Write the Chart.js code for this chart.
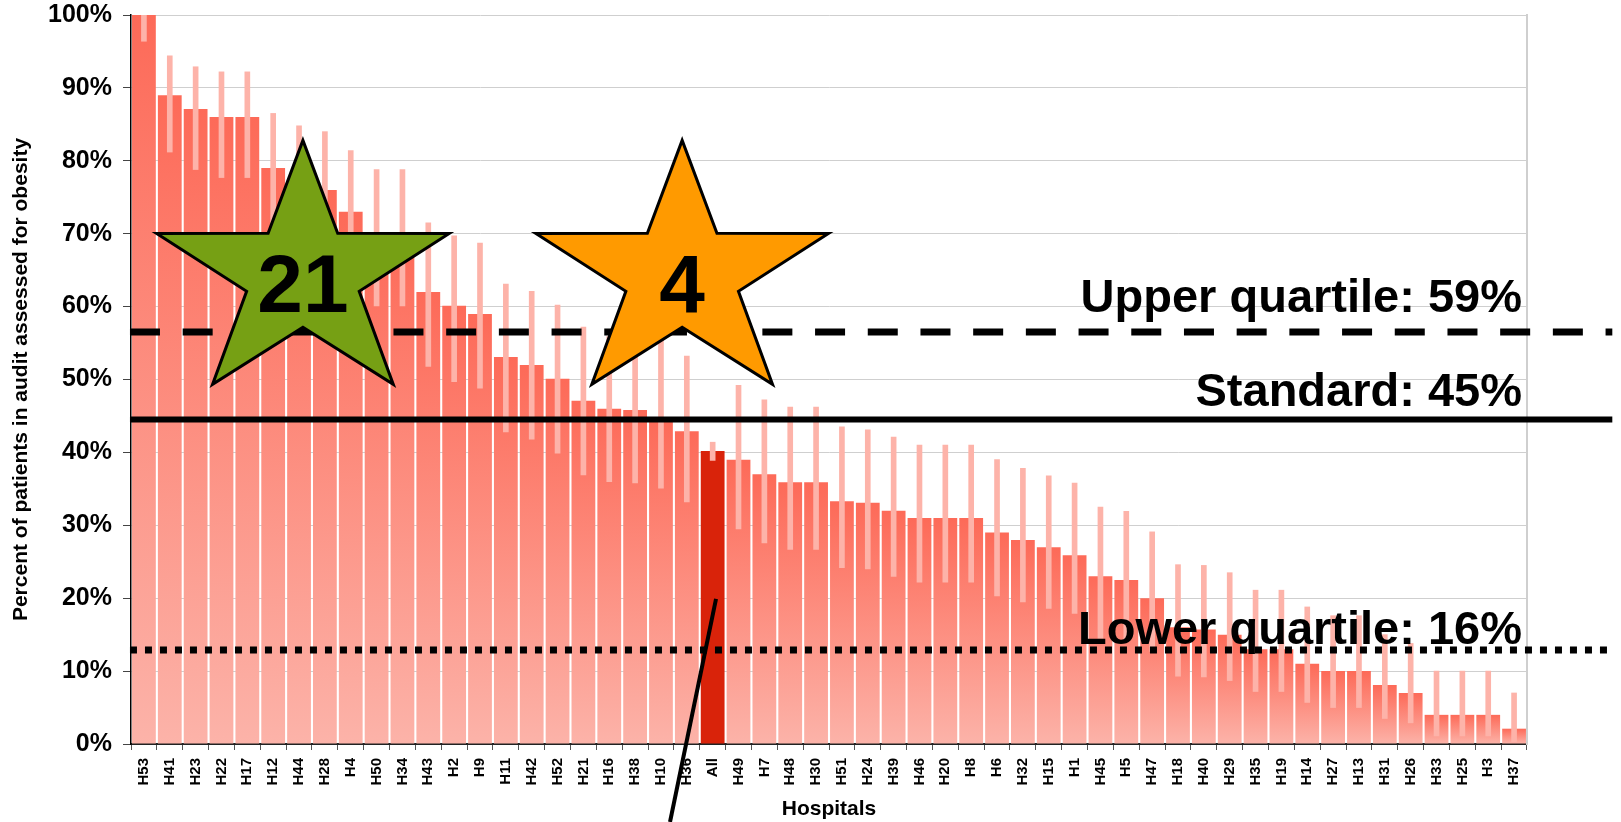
<!DOCTYPE html>
<html>
<head>
<meta charset="utf-8">
<title>Obesity assessment by hospital</title>
<script src="https://cdn.jsdelivr.net/npm/chart.js@4/dist/chart.umd.min.js"></script>
<style>
  html, body { margin: 0; padding: 0; background: #fff; }
  #wrap { position: relative; width: 1621px; height: 822px; }
</style>
</head>
<body>
<div id="wrap"><canvas id="auditChart"></canvas></div>
<script>
const hospitals = [
  "H53", "H41", "H23", "H22", "H17", "H12", "H44", "H28", "H4", "H50", "H34",
  "H43", "H2", "H9", "H11", "H42", "H52", "H21", "H16", "H38", "H10", "H36",
  "All", "H49", "H7", "H48", "H30", "H51", "H24", "H39", "H46", "H20", "H8",
  "H6", "H32", "H15", "H1", "H45", "H5", "H47", "H18", "H40", "H29", "H35",
  "H19", "H14", "H27", "H13", "H31", "H26", "H33", "H25", "H3", "H37",
];
const assessed = [
  100, 89, 87.1, 86, 86, 79, 77.5, 76, 73, 70, 70,
  62, 60.1, 59, 53.1, 52, 50.1, 47.1, 46, 45.8, 44.5, 42.9,
  40.2, 39, 37, 35.9, 35.9, 33.3, 33.1, 32, 31, 31, 31,
  29, 28, 27, 25.9, 23, 22.5, 20, 16, 15.7, 15, 13,
  13, 11, 10, 10, 8.1, 7, 4, 4, 4, 2.1,
];
const ciLow = [
  96.4, 81.2, 78.8, 77.7, 77.7, 71, 70, 67.5, 64, 60.1, 60.1,
  51.8, 49.7, 48.8, 42.8, 41.8, 39.9, 36.9, 36, 35.8, 35.1, 33.2,
  38.9, 29.5, 27.6, 26.7, 26.7, 24.2, 24, 23, 22.2, 22.2, 22.2,
  20.3, 19.5, 18.6, 17.9, 14.5, 14, 12.7, 9.3, 9.2, 8.7, 7.2,
  7.2, 5.7, 5, 5, 3.5, 2.9, 1.1, 1.1, 1.1, 0.3,
];
const ciHigh = [
  100, 94.4, 92.9, 92.2, 92.2, 86.5, 84.8, 84, 81.4, 78.8, 78.8,
  71.5, 69.7, 68.7, 63.1, 62.1, 60.2, 57.2, 55.9, 53.5, 55.4, 53.2,
  41.4, 49.2, 47.2, 46.2, 46.2, 43.5, 43.1, 42.1, 41, 41, 41,
  39, 37.8, 36.8, 35.8, 32.5, 31.9, 29.1, 24.6, 24.5, 23.5, 21.1,
  21.1, 18.8, 17.6, 17.6, 15, 13.8, 10, 10, 10, 7,
];

// reference lines (upper quartile, standard, lower quartile) as drawn
const refValues = [56.5, 44.5, 12.9];
const refLabels = ["Upper quartile: 59%", "Standard: 45%", "Lower quartile: 16%"];
const refLabelY = [59.3, 46.3, 13.7];
const refSpan = [-0.54, 56.8];

// stars and the pointer line
const starLabels = ["21", "4"];
const starColors = ["#76A014", "#FF9A00"];
const starX = [6.15, 20.82];
const starY = [64.3, 64.3];
const starRadius = 18.5;
const pointerX = [22.13, 20.35];
const pointerY = [19.9, -10.7];

const FONT = '"Liberation Sans", Arial, Helvetica, sans-serif';

document.addEventListener("DOMContentLoaded", function () {
  const ctx = document.getElementById("auditChart").getContext("2d");

  function barFill(c) {
    if (c.type !== "data") return "#FD6A58";
    if (hospitals[c.dataIndex] === "All") return "#D9230A";
    const chart = c.chart;
    if (!chart.chartArea) return "#FD6A58";
    const y = chart.scales.y;
    const top = y.getPixelForValue(c.raw);
    const base = y.getPixelForValue(0);
    const g = chart.ctx.createLinearGradient(0, top, 0, base);
    g.addColorStop(0, "#FD6A58");
    g.addColorStop(1, "#FCB3A9");
    return g;
  }

  const starsPlugin = {
    id: "stars",
    afterDatasetsDraw(chart) {
      const c = chart.ctx;
      const x2 = chart.scales.x2;
      const y = chart.scales.y;
      c.save();
      starLabels.forEach((txt, i) => {
        const cx = x2.getPixelForValue(starX[i]);
        const cy = y.getPixelForValue(starY[i]);
        const R = y.getPixelForValue(starY[i] - starRadius) - cy;
        c.beginPath();
        for (let k = 0; k < 10; k++) {
          const r = k % 2 === 0 ? R : R * 0.385;
          const a = -Math.PI / 2 + (k * Math.PI) / 5;
          const px = cx + Math.cos(a) * r * 1.14;
          const py = cy + Math.sin(a) * r;
          if (k === 0) c.moveTo(px, py);
          else c.lineTo(px, py);
        }
        c.closePath();
        c.fillStyle = starColors[i];
        c.fill();
        c.lineWidth = 3;
        c.lineJoin = "miter";
        c.strokeStyle = "#000";
        c.stroke();
        c.fillStyle = "#000";
        c.font = "bold 82px " + FONT;
        c.textAlign = "center";
        c.textBaseline = "alphabetic";
        c.fillText(txt, cx, cy + 37);
      });
      c.font = "bold 47px " + FONT;
      c.textAlign = "right";
      c.fillStyle = "#000";
      refLabels.forEach((t, i) => {
        c.fillText(t, chart.chartArea.right - 5, y.getPixelForValue(refLabelY[i]));
      });
      c.restore();
    },
  };

  const refStyles = [
    { borderDash: [30, 22.7] },
    { borderDash: [] },
    { borderDash: [7, 8] },
  ];
  const refDatasets = refValues.map((v, i) => ({
    type: "line",
    data: [{ x: refSpan[0], y: v }, { x: refSpan[1], y: v }],
    xAxisID: "x2",
    yAxisID: "y",
    borderColor: "#000",
    borderWidth: i === 1 ? 6 : 7,
    borderDash: refStyles[i].borderDash,
    borderCapStyle: "butt",
    pointRadius: 0,
    clip: false,
    order: 0,
  }));

  new Chart(ctx, {
    type: "bar",
    data: {
      labels: hospitals,
      datasets: [
        {
          label: "Confidence interval",
          data: hospitals.map((h, i) => [ciLow[i], ciHigh[i]]),
          xAxisID: "x",
          yAxisID: "y",
          backgroundColor: "#FDB3A9",
          borderWidth: 0,
          barThickness: 5,
          grouped: false,
          order: 1,
        },
        {
          label: "Assessed",
          data: assessed,
          xAxisID: "x",
          yAxisID: "y",
          backgroundColor: barFill,
          borderWidth: 0,
          categoryPercentage: 1,
          barPercentage: 0.92,
          grouped: false,
          order: 2,
        },
        ...refDatasets,
        {
          type: "line",
          data: pointerX.map((x, i) => ({ x: x, y: pointerY[i] })),
          xAxisID: "x2",
          yAxisID: "y",
          borderColor: "#000",
          borderWidth: 4,
          pointRadius: 0,
          clip: false,
          order: 0,
        },
      ],
    },
    options: {
      responsive: true,
      maintainAspectRatio: false,
      animation: false,
      events: [],
      layout: { padding: { top: 5, left: 0, right: 0, bottom: 0 } },
      scales: {
        x: {
          type: "category",
          offset: true,
          weight: 2,
          grid: {
            offset: true,
            drawOnChartArea: false,
            tickLength: 6,
            color: "#555",
          },
          border: { color: "#222", width: 2 },
          ticks: {
            autoSkip: false,
            minRotation: 90,
            maxRotation: 90,
            padding: 8,
            color: "#000",
            font: { family: FONT, size: 15, weight: "bold" },
          },
          title: {
            display: true,
            text: "Hospitals",
            color: "#000",
            font: { family: FONT, size: 21, weight: "bold" },
            padding: { top: 0, bottom: 0 },
          },
          afterFit(s) {
            s.height = 78;
          },
        },
        x2: {
          type: "linear",
          position: "bottom",
          weight: 1,
          offset: false,
          beginAtZero: false,
          min: -0.5,
          max: 53.5,
          ticks: { display: false },
          grid: { display: false, drawTicks: false, offset: false },
          border: { display: false },
          afterFit(s) {
            s.height = 0;
          },
        },
        y: {
          min: 0,
          max: 100,
          ticks: {
            stepSize: 10,
            padding: 11,
            color: "#000",
            font: { family: FONT, size: 25, weight: "bold" },
            callback: (v) => v + "%",
          },
          grid: {
            color: "#CFCFCF",
            tickColor: "#444",
            tickLength: 8,
          },
          border: { color: "#000", width: 1.5 },
          title: {
            display: true,
            text: "Percent of patients in audit assessed for obesity",
            color: "#000",
            font: { family: FONT, size: 21, weight: "bold" },
            padding: { top: 9, bottom: 0 },
          },
          afterFit(s) {
            s.width = 131;
            s.paddingTop = 15;
          },
        },
        y2: {
          position: "right",
          min: 0,
          max: 100,
          ticks: { display: false },
          grid: { drawOnChartArea: false, drawTicks: false },
          border: { color: "#CFCFCF", width: 2 },
          afterFit(s) {
            s.width = 94;
            s.paddingTop = 15;
          },
        },
      },
      plugins: {
        legend: { display: false },
        tooltip: { enabled: false },
      },
    },
    plugins: [starsPlugin],
  });
});
</script>
</body>
</html>
